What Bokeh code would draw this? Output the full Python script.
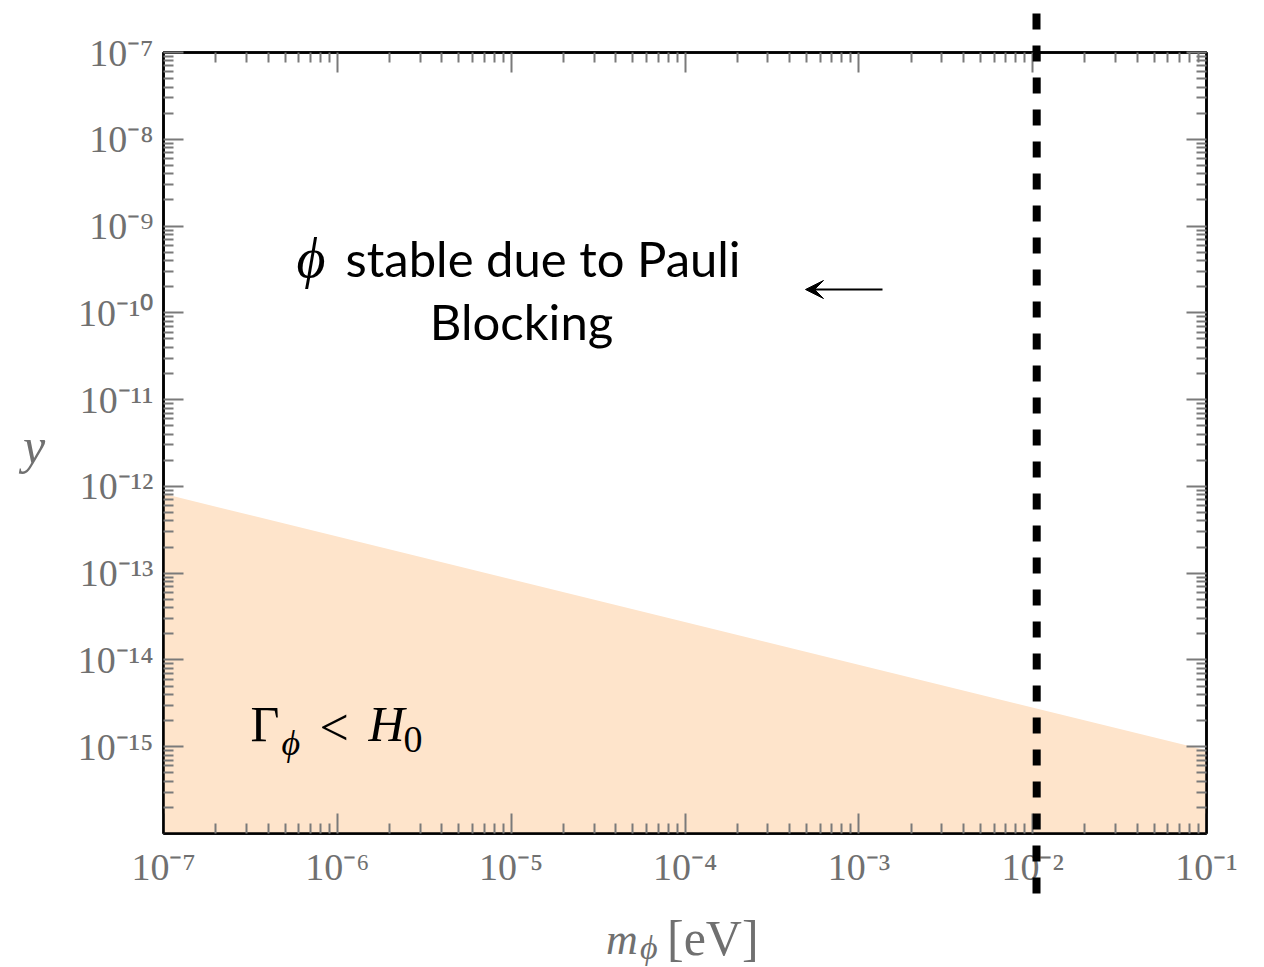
from bokeh.plotting import figure
from bokeh.models import Range1d, LogAxis, FixedTicker, Label, Arrow, VeeHead, Div
from bokeh.layouts import row, column
from bokeh.embed import file_html
from bokeh.resources import INLINE

# ---------------- data ----------------
mass_edges = [1e-7, 1e-1]            # m_phi [eV]
y_boundary = [8.2e-13, 9.1e-16]      # Gamma_phi = H0 boundary
y_floor = [1e-16, 1e-16]
m_pauli = 1.055e-2                   # Pauli-blocking mass (dashed line)

x_major = [1e-7, 1e-6, 1e-5, 1e-4, 1e-3, 1e-2, 1e-1]
x_tick_labels = ["10⁻⁷", "10⁻⁶", "10⁻⁵", "10⁻⁴", "10⁻³", "10⁻²", "10⁻¹"]
y_major = [1e-15, 1e-14, 1e-13, 1e-12, 1e-11, 1e-10, 1e-9, 1e-8, 1e-7]
y_tick_labels = ["10⁻¹⁵", "10⁻¹⁴", "10⁻¹³", "10⁻¹²", "10⁻¹¹", "10⁻¹⁰", "10⁻⁹", "10⁻⁸", "10⁻⁷"]
x_decades = list(range(-7, -1))
y_decades = list(range(-16, -7))

# ---------------- layout (page pixels) ----------------
W, H = 1264, 967
YLAB_W = 60                 # strip for the y title
XLAB_H = 62                 # strip for the x title
L, R, T, B = 163, 58, 52, 134
FW, FH = W - L - R, H - T - B
FIG_W, FIG_H = W - YLAB_W, H - XLAB_H

def px_x(px):
    return 10 ** (-7 + (px - L) / (FW / 6.0))

def px_y(py):
    return 10 ** (-7 - (py - T) / (FH / 9.0))

p = figure(width=FIG_W, height=FIG_H, x_axis_type="log", y_axis_type="log",
           x_range=Range1d(1e-7, 1e-1), y_range=Range1d(1e-16, 1e-7),
           x_axis_location=None,
           output_backend="svg", toolbar_location=None,
           min_border_left=L - YLAB_W, min_border_right=R, min_border_top=T,
           min_border_bottom=FIG_H - (H - B))
p.xgrid.visible = False
p.ygrid.visible = False
p.outline_line_color = "black"
p.outline_line_width = 2.5
p.background_fill_color = "white"
p.border_fill_color = "white"

x_minor = [k * 10.0 ** e for e in x_decades for k in range(2, 10)]
y_minor = [k * 10.0 ** e for e in y_decades for k in range(2, 10)]
xt = FixedTicker(ticks=x_major, minor_ticks=x_minor)
yt = FixedTicker(ticks=y_major, minor_ticks=y_minor)

SERIF = "Liberation Serif"
GRAY = "#707070"

def style(ax, ticker, show):
    ax.ticker = ticker
    ax.axis_line_color = "black"
    ax.axis_line_width = 2.5
    ax.major_tick_in = 20
    ax.major_tick_out = 0
    ax.minor_tick_in = 10
    ax.minor_tick_out = 0
    ax.major_tick_line_color = "#7a7a7a"
    ax.minor_tick_line_color = "#7a7a7a"
    ax.major_tick_line_width = 2
    ax.minor_tick_line_width = 2
    ax.major_label_text_font = SERIF
    ax.major_label_text_color = GRAY
    if show:
        ax.major_label_text_font_size = "38px"
    else:
        ax.major_label_text_font_size = "0px"
        ax.major_label_text_alpha = 0
        ax.major_label_standoff = 0

def dash_axis(length, offset):
    ax = LogAxis(ticker=FixedTicker(ticks=[m_pauli], minor_ticks=[]),
                 major_tick_in=-length, major_tick_out=0,
                 minor_tick_in=0, minor_tick_out=0,
                 axis_line_color=None,
                 major_tick_line_color="black", major_tick_line_width=8,
                 major_tick_line_dash="16 16", major_tick_line_dash_offset=offset,
                 major_label_text_font_size="0px", major_label_text_alpha=0,
                 major_label_standoff=0, major_label_overrides={m_pauli: ""},
                 level="overlay")
    return ax

bottom_ax = LogAxis()
style(bottom_ax, xt, True)
bottom_ax.major_label_overrides = {v: s for v, s in zip(x_major, x_tick_labels)}
bottom_ax.major_label_standoff = 12

style(p.yaxis[0], yt, True)
p.yaxis[0].major_label_overrides = {v: s for v, s in zip(y_major, y_tick_labels)}
p.yaxis[0].major_label_standoff = 10

top_ax = LogAxis()
style(top_ax, xt, False)
right_ax = LogAxis()
style(right_ax, yt, False)

p.below = [dash_axis(60, 20), bottom_ax]
p.above = [dash_axis(39, 9), top_ax]
p.add_layout(right_ax, "right")

# ---------------- region ----------------
p.varea(x=mass_edges, y1=y_floor, y2=y_boundary, fill_color="#FEE4CB", fill_alpha=1.0)

# dashed vertical line at the Pauli mass (inside the frame)
p.add_layout(Arrow(end=None, start=None, x_start=m_pauli, x_end=m_pauli,
                   y_start=px_y(13), y_end=px_y(893),
                   line_color="black", line_width=8, line_dash="16 16"))

# arrow
p.add_layout(Arrow(end=VeeHead(size=18, fill_color="black", line_color="black", line_width=1),
                   x_start=px_x(882), x_end=px_x(805), y_start=px_y(289), y_end=px_y(289),
                   line_color="black", line_width=2))

def lab(text, px, py, size, font=SERIF, style_="normal", color="black", align="left"):
    p.add_layout(Label(x=px_x(px), y=px_y(py), text=text, text_font=font,
                       text_font_size=f"{size}px", text_font_style=style_,
                       text_color=color, text_align=align, text_baseline="middle"))

# annotation text
SANS = "Lato"
lab("ϕ", 296, 257, 56, style_="italic")
lab("stable due to Pauli", 345, 257, 49, font=SANS)
lab("Blocking", 521, 320, 49, font=SANS, align="center")

lab("Γ", 250, 723, 50)
lab("ϕ", 281, 742, 36, style_="italic")
lab("<", 319, 727, 52)
lab("H", 368, 723, 50, style_="italic")
lab("0", 403, 739, 38)

# ---------------- axis titles (HTML text strips) ----------------
def span(text, left, top, size, italic=False):
    st = "font-style:italic;" if italic else ""
    return (f'<span style="position:absolute; left:{left}px; top:{top}px; '
            f'font-size:{size}px; line-height:1; white-space:nowrap; {st}">{text}</span>')

xlab_html = ('<div style="position:relative; width:%dpx; height:%dpx; '
             'font-family:\'Liberation Serif\'; color:%s;">' % (FIG_W, XLAB_H, GRAY)
             + span("m", 546, 13, 44, True)
             + span("ϕ", 580, 26, 34, True)
             + span("[eV]", 607, 8, 50)
             + '</div>')
ylab_html = ('<div style="position:relative; width:%dpx; height:%dpx; '
             'font-family:\'Liberation Serif\'; color:%s;">' % (YLAB_W, H, GRAY)
             + span("y", 23, 421, 50, True)
             + '</div>')

xdiv = Div(text=xlab_html, width=FIG_W, height=XLAB_H, margin=0,
           styles={"overflow": "visible", "background-color": "white"})
ydiv = Div(text=ylab_html, width=YLAB_W, height=H, margin=0,
           styles={"overflow": "visible", "background-color": "white"})

layout = row(ydiv, column(p, xdiv, spacing=0), spacing=0)

open("out.html", "w").write(file_html(layout, INLINE))
